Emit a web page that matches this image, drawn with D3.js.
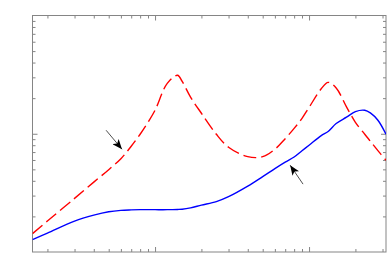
<!DOCTYPE html>
<meta charset="utf-8">
<style>
body { margin: 0; background: #fff; }
.frame { fill: none; stroke: #858585; stroke-width: 1; }
.axis line { stroke: #858585; }
.axis path { display: none; }
</style>
<body>
<script src="https://d3js.org/d3.v7.min.js"></script>
<script>

// Frequency points (log x axis) and the two responses (log y axis)
var freq = [1.6, 2, 3, 4, 5, 6, 7, 8, 9, 10, 12, 14, 15, 17, 20, 25, 30, 40, 50, 60,
            70, 80, 90, 100, 120, 133, 150, 175, 200, 230, 250, 280, 316];
var redVals = [0.143, 0.183, 0.284, 0.39, 0.497, 0.615, 0.784, 0.99, 1.25, 1.58, 2.67, 3.12, 2.77, 2.04,
               1.49, 0.99, 0.769, 0.64, 0.64, 0.74, 0.908, 1.11, 1.35, 1.67, 2.4, 2.72, 2.44, 1.69,
               1.25, 0.99, 0.865, 0.72, 0.597];
var blueVals = [0.1275, 0.1446, 0.1826, 0.205, 0.219, 0.225, 0.227, 0.228, 0.228, 0.228, 0.228, 0.229, 0.23, 0.236,
                0.249, 0.267, 0.294, 0.361, 0.434, 0.507, 0.575, 0.636, 0.719, 0.80, 0.964, 1.046, 1.22, 1.38,
                1.54, 1.58, 1.5, 1.3, 0.99];

// annotation arrows: tail and tip in data units
var arrowTail = [[4.81, 1.07], [91.4, 0.375]];
var arrowTip = [[6.1, 0.74], [75.4, 0.542]];

var W = 387, H = 254;
var pLeft = 32.5, pRight = 386, pTop = 15.5, pBottom = 252;

var svg = d3.select("body").append("svg")
    .attr("width", W)
    .attr("height", H);

var x = d3.scaleLog().domain([1.6, 316]).range([pLeft, pRight]);
var y = d3.scaleLog().domain([0.1, 10]).range([pBottom, pTop]);

function isMajor(d) {
  var l = Math.log10(d);
  return Math.abs(l - Math.round(l)) < 1e-6;
}
var xt = x.ticks().filter(function(d) { return d > 1.6 && d < 316; });
var yt = y.ticks().filter(function(d) { return d > 0.1 && d < 10; });
var xMinor = xt.filter(function(d) { return !isMajor(d); }),
    xMajor = xt.filter(isMajor),
    yMinor = yt.filter(function(d) { return !isMajor(d); }),
    yMajor = yt.filter(isMajor);

function addAxis(gen, vals, size, tr) {
  svg.append("g")
    .attr("class", "axis")
    .attr("transform", tr)
    .call(gen.tickValues(vals).tickSize(size).tickSizeOuter(0).tickFormat(""));
}
// ticks point inward on all four sides
addAxis(d3.axisBottom(x), xMinor, -3, "translate(0," + pBottom + ")");
addAxis(d3.axisBottom(x), xMajor, -5, "translate(0," + pBottom + ")");
addAxis(d3.axisTop(x), xMinor, -3, "translate(0," + pTop + ")");
addAxis(d3.axisTop(x), xMajor, -5, "translate(0," + pTop + ")");
addAxis(d3.axisLeft(y), yMinor, -3, "translate(" + pLeft + ",0)");
addAxis(d3.axisLeft(y), yMajor, -5, "translate(" + pLeft + ",0)");
addAxis(d3.axisRight(y), yMinor, -3, "translate(" + pRight + ",0)");
addAxis(d3.axisRight(y), yMajor, -5, "translate(" + pRight + ",0)");

svg.append("rect")
    .attr("class", "frame")
    .attr("x", pLeft)
    .attr("y", pTop)
    .attr("width", pRight - pLeft)
    .attr("height", pBottom - pTop);

svg.append("clipPath").attr("id", "clip")
  .append("rect")
    .attr("x", pLeft).attr("y", pTop)
    .attr("width", pRight - pLeft).attr("height", pBottom - pTop);

function lineFor(vals) {
  return d3.line()
    .x(function(d, i) { return x(freq[i]); })
    .y(function(d) { return y(d); })
    .curve(d3.curveCatmullRom.alpha(0.5))(vals);
}

svg.append("path")
    .attr("clip-path", "url(#clip)")
    .attr("d", lineFor(blueVals))
    .attr("fill", "none")
    .attr("stroke", "#0000ff")
    .attr("stroke-width", 1.4);

svg.append("path")
    .attr("clip-path", "url(#clip)")
    .attr("d", lineFor(redVals))
    .attr("fill", "none")
    .attr("stroke", "#ff0000")
    .attr("stroke-width", 1.4)
    .attr("stroke-dasharray", "13,5");

// arrow heads
svg.append("defs").append("marker")
    .attr("id", "head")
    .attr("markerUnits", "userSpaceOnUse")
    .attr("viewBox", "0 0 10 8")
    .attr("refX", 10)
    .attr("refY", 4)
    .attr("markerWidth", 10)
    .attr("markerHeight", 8)
    .attr("orient", "auto")
  .append("path")
    .attr("d", "M0,0 L10,4 L0,8 L2.5,4 Z")
    .attr("fill", "#000");

arrowTail.forEach(function(t, i) {
  svg.append("line")
      .attr("x1", x(t[0])).attr("y1", y(t[1]))
      .attr("x2", x(arrowTip[i][0])).attr("y2", y(arrowTip[i][1]))
      .attr("stroke", "#222")
      .attr("stroke-width", 0.8)
      .attr("marker-end", "url(#head)");
});

</script>
</body>
